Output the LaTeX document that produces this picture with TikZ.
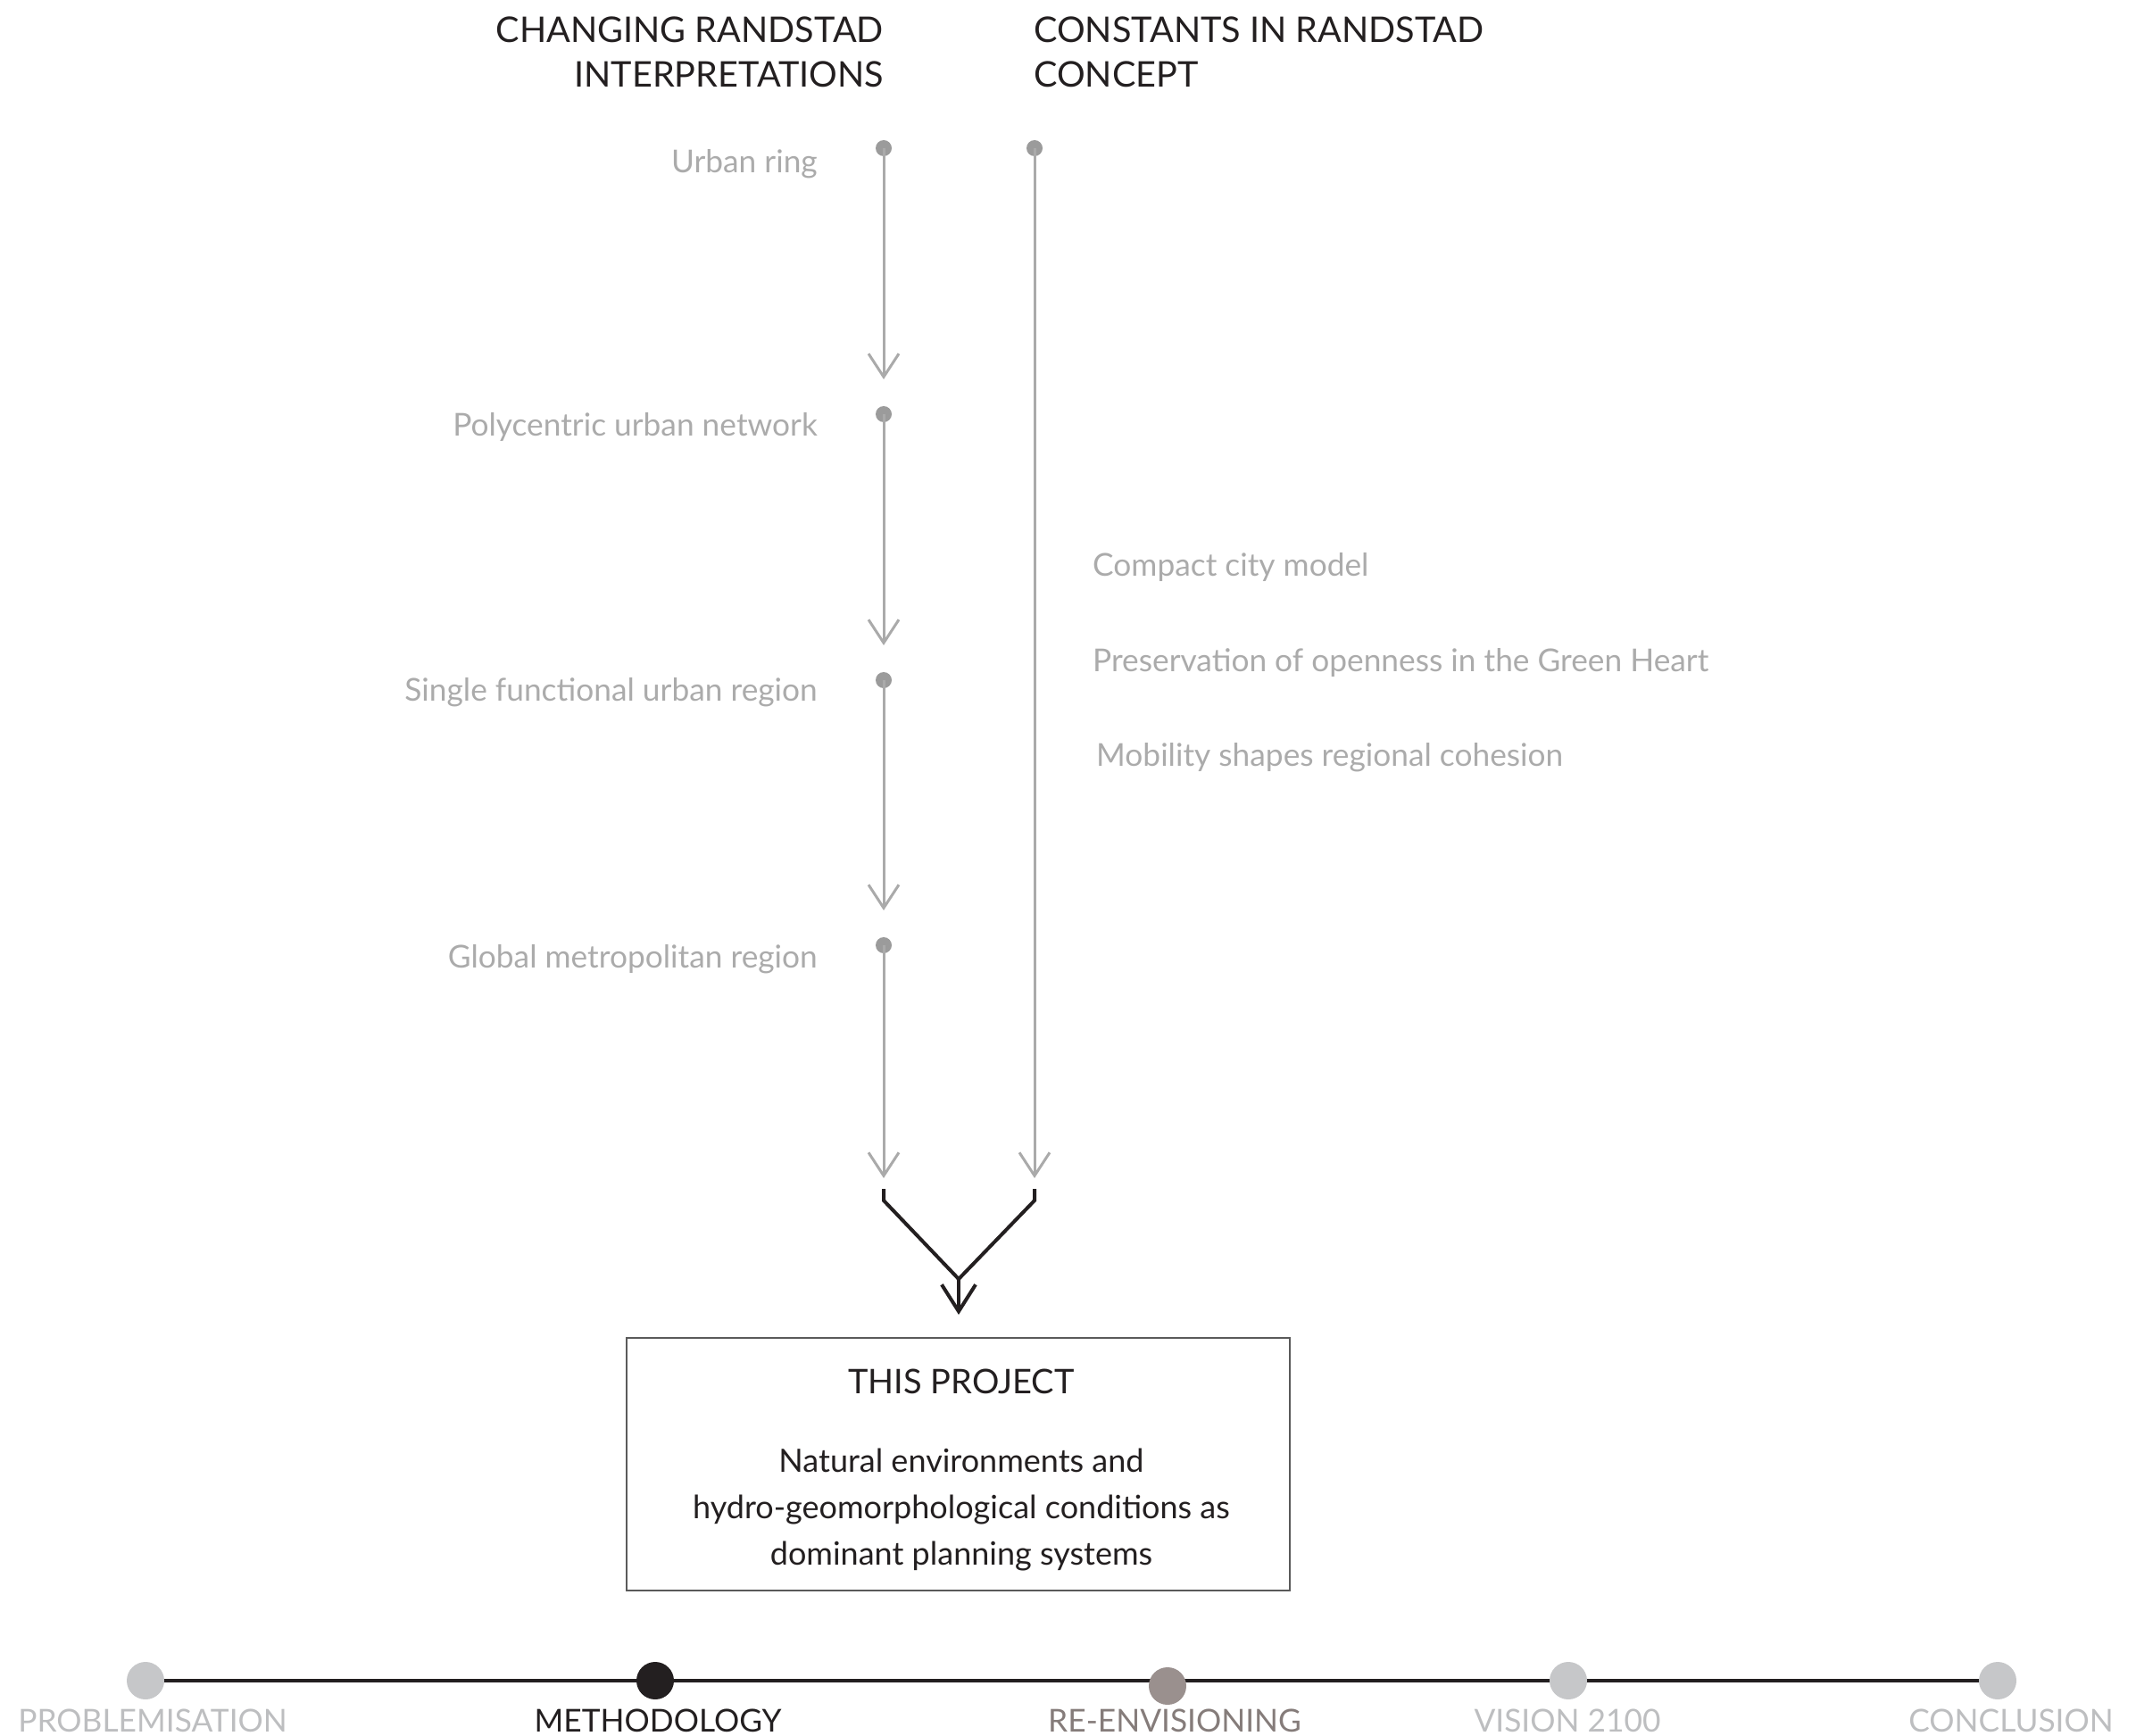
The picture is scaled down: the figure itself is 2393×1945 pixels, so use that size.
\documentclass[tikz,border=0pt]{standalone}
\usepackage{fontspec}
\setmainfont{Lato}
\usetikzlibrary{arrows.meta}
\definecolor{ink}{HTML}{231F20}
\definecolor{lgray}{HTML}{AAAAAA}
\definecolor{dotgray}{HTML}{9B9B9B}
\definecolor{labgray}{HTML}{ABABAB}
\definecolor{tlight}{HTML}{C6C7C9}
\definecolor{tlighttext}{HTML}{BDBEC0}
\definecolor{twarm}{HTML}{9A908E}
\definecolor{twarmtext}{HTML}{857C7A}
\definecolor{boxgray}{HTML}{5A5A5A}
\begin{document}
\begin{tikzpicture}[x=1pt,y=-1pt,
  head/.style={font=\fontsize{39.6}{50}\selectfont, text=ink, inner sep=0},
  lab/.style={font=\fontsize{35.3}{44}\selectfont, text=labgray, inner sep=0},
  body/.style={font=\fontsize{36}{52}\selectfont, text=ink, inner sep=0},
  tltext/.style={font=\fontsize{35.3}{44}\selectfont, inner sep=0, anchor=base},
  dotnode/.style={circle, fill=dotgray, inner sep=0, minimum size=18},
  tdot/.style={circle, inner sep=0, minimum size=42},
  garrow/.style={draw=lgray, line width=3, -{Straight Barb[length=26pt,width=34pt]}},
  barrow/.style={draw=ink, line width=4, -{Straight Barb[length=30pt,width=38pt]}},
  merge/.style={draw=ink, line width=4, line join=miter}
]
\useasboundingbox (0,0) rectangle (2393,1945);

% headers
\node[head, anchor=base east] (hl1) at (990,48) {CHANGING RANDSTAD};
\node[head, anchor=base east] (hl2) at (990,98) {INTERPRETATIONS};
\node[head, anchor=base west] (hr1) at (1158,48) {CONSTANTS IN RANDSTAD};
\node[head, anchor=base west] (hr2) at (1158,98) {CONCEPT};

% left column
\node[dotnode] (d1) at (990,166) {};
\node[dotnode] (d2) at (990,464) {};
\node[dotnode] (d3) at (990,762) {};
\node[dotnode] (d4) at (990,1059) {};
\coordinate (t1) at (990,425);
\coordinate (t2) at (990,723);
\coordinate (t3) at (990,1020);
\coordinate (t4) at (990,1320);
\draw[garrow] (d1.center) -- (t1);
\draw[garrow] (d2.center) -- (t2);
\draw[garrow] (d3.center) -- (t3);
\draw[garrow] (d4.center) -- (t4);

% right column
\node[dotnode] (r1) at (1159,166) {};
\coordinate (rt) at (1159,1320);
\draw[garrow] (r1.center) -- (rt);

% left labels
\node[lab, anchor=east] (l1) at (916,184) {Urban ring};
\node[lab, anchor=east] (l2) at (916,479) {Polycentric urban network};
\node[lab, anchor=east] (l3) at (916,776) {Single functional urban region};
\node[lab, anchor=east] (l4) at (916,1075) {Global metropolitan region};

% right labels
\node[lab, anchor=west] (c1) at (1224,636) {Compact city model};
\node[lab, anchor=west] (c2) at (1224,743) {Preservation of openness in the Green Heart};
\node[lab, anchor=west] (c3) at (1228,849) {Mobility shapes regional cohesion};

% merging connector
\coordinate (m1) at (990,1332);
\coordinate (m1b) at (990,1345);
\coordinate (m2) at (1159,1332);
\coordinate (m2b) at (1159,1345);
\coordinate (mj) at (1074,1433);
\coordinate (mt) at (1074,1473);
\draw[merge] (m1) -- (m1b) -- (mj);
\draw[merge] (m2) -- (m2b) -- (mj);
\draw[barrow] (mj) -- (mt);

% project box
\node[draw=boxgray, line width=2.5, minimum width=743, minimum height=283, inner sep=0] (box) at (1073.5,1640.5) {};
\node[head, font=\fontsize{38}{46}\selectfont] (title) at (1077,1548) {THIS PROJECT};
\node[body, align=center] (desc) at (1077,1692) {Natural environments and\\hydro-geomorphological conditions as\\dominant planning systems};

% timeline
\coordinate (ta) at (163,1883);
\coordinate (tb) at (2238,1883);
\draw[draw=ink, line width=4] (ta) -- (tb);
\node[tdot, fill=tlight] (p1) at (163,1883) {};
\node[tdot, fill=ink] (p2) at (734,1883) {};
\node[tdot, fill=twarm] (p3) at (1308,1889) {};
\node[tdot, fill=tlight] (p4) at (1757,1883) {};
\node[tdot, fill=tlight] (p5) at (2238,1883) {};
\node[tltext, text=tlighttext] (n1) at (171,1940) {PROBLEMISATION};
\node[tltext, text=ink] (n2) at (737,1940) {METHODOLOGY};
\node[tltext, text=twarmtext] (n3) at (1316,1940) {RE-ENVISIONING};
\node[tltext, text=tlighttext] (n4) at (1756,1940) {VISION 2100};
\node[tltext, text=tlighttext] (n5) at (2253,1940) {CONCLUSION};
\end{tikzpicture}
\end{document}
